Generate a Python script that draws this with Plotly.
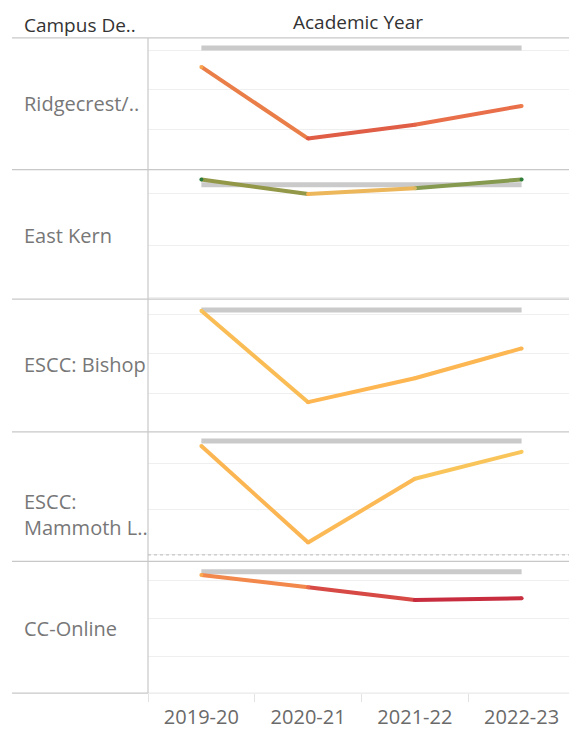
import plotly.graph_objects as go

W, H = 569, 730

years = ["2019-20", "2020-21", "2021-22", "2022-23"]
campuses = ["Ridgecrest/..", "East Kern", "ESCC: Bishop", "ESCC:<br>Mammoth L..", "CC-Online"]

# values (arbitrary units, hidden axis)
ridgecrest = [2.58, 0.76, 1.11, 1.59]
east_kern = [2.26, 1.98, 2.09, 2.26]
bishop = [3.10, 0.77, 1.38, 2.14]
mammoth = [2.39, 0.27, 1.67, 2.26]
cc_online = [3.14, 2.82, 2.48, 2.53]

# benchmark (gray reference) per campus
ridgecrest_ref = [3.06, 3.06, 3.06, 3.06]
east_kern_ref = [2.16, 2.16, 2.16, 2.16]
bishop_ref = [3.12, 3.12, 3.12, 3.12]
mammoth_ref = [2.50, 2.50, 2.50, 2.50]
cc_online_ref = [3.23, 3.23, 3.23, 3.23]

# per-point colours (colour-encoded measure)
ridgecrest_col = ["#F8A54E", "#DD5743", "#E4644A", "#EE7B4B"]
east_kern_col = ["#2A7B3C", "#FBB552", "#DDB863", "#2E7D3A"]
bishop_col = ["#F7C55A", "#FDB551", "#FDB752", "#FCB553"]
mammoth_col = ["#FBB954", "#FCB352", "#FAC15A", "#F9C95C"]
cc_online_col = ["#FBA84F", "#E9694A", "#C62A3F", "#C8303F"]

series = [ridgecrest, east_kern, bishop, mammoth, cc_online]
refs = [ridgecrest_ref, east_kern_ref, bishop_ref, mammoth_ref, cc_online_ref]
cols = [ridgecrest_col, east_kern_col, bishop_col, mammoth_col, cc_online_col]

# layout (pixels)
row_px = [(38, 170), (170, 300), (300, 433), (433, 563), (563, 695)]
y_ranges = [(-0.025, 3.316), (-0.028, 2.449), (0.013, 3.397), (-0.144, 2.70), (0.026, 3.5)]
label_y_px = [104, 236, 366, 516, 630]
X0 = 148


def py(p):
    return 1 - p / H


def px(p):
    return p / W


def mix(c1, c2):
    a = [int(c1[i:i + 2], 16) for i in (1, 3, 5)]
    b = [int(c2[i:i + 2], 16) for i in (1, 3, 5)]
    return "#%02X%02X%02X" % tuple((x + y) // 2 for x, y in zip(a, b))


fig = go.Figure()
FONT = "Open Sans"

for i in range(5):
    n = i + 1
    xa = "x" if n == 1 else f"x{n}"
    ya = "y" if n == 1 else f"y{n}"
    # gray reference line
    fig.add_trace(go.Scatter(x=years, y=refs[i], mode="lines",
                             line=dict(color="#CACACA", width=5),
                             xaxis=xa, yaxis=ya, showlegend=False, hoverinfo="skip"))
    vals = series[i]
    c = cols[i]
    for k in range(len(years) - 1):
        fig.add_trace(go.Scatter(x=years[k:k + 2], y=vals[k:k + 2], mode="lines",
                                 line=dict(color=mix(c[k], c[k + 1]), width=4),
                                 xaxis=xa, yaxis=ya, showlegend=False))
    fig.add_trace(go.Scatter(x=years, y=vals, mode="markers",
                             marker=dict(color=c, size=4, line=dict(width=0)),
                             xaxis=xa, yaxis=ya, showlegend=False))

    top, bot = row_px[i]
    fig.layout[f"xaxis{'' if n == 1 else n}"] = dict(
        domain=[px(X0), 1], anchor=ya, type="category", categoryorder="array",
        categoryarray=years, range=[-0.5, 3.444], showgrid=False, zeroline=False,
        showline=False, showticklabels=(n == 5),
        ticks="outside" if n == 5 else "", tickson="boundaries", ticklen=8,
        tickcolor="#E3E3E3", tickwidth=1, ticklabelstandoff=10,
        tickfont=dict(family=FONT, size=20, color="#6A6A6A"))
    fig.layout[f"yaxis{'' if n == 1 else n}"] = dict(
        domain=[py(bot), py(top)], anchor=xa, range=list(y_ranges[i]),
        tick0=0, dtick=1, showgrid=True, gridcolor="#EFEFEF", gridwidth=1,
        zeroline=False, showticklabels=False, showline=False)

    fig.add_annotation(text=campuses[i], xref="paper", yref="paper",
                       x=px(22), y=py(label_y_px[i]), xanchor="left", yanchor="middle",
                       showarrow=False, align="left",
                       font=dict(family=FONT, size=20, color="#777777"))

shapes = []
# header underline and row separators
for yy in [38, 170, 300, 433, 563]:
    shapes.append(dict(type="line", xref="paper", yref="paper", x0=px(12), x1=1,
                       y0=py(yy), y1=py(yy), line=dict(color="#C8C8C8", width=1.2)))
shapes.append(dict(type="line", xref="paper", yref="paper", x0=px(12), x1=px(X0),
                   y0=py(695), y1=py(695), line=dict(color="#C8C8C8", width=1.2)))
shapes.append(dict(type="line", xref="paper", yref="paper", x0=px(X0), x1=1,
                   y0=py(695), y1=py(695), line=dict(color="#E3E3E3", width=1)))
# vertical divider
shapes.append(dict(type="line", xref="paper", yref="paper", x0=px(X0), x1=px(X0),
                   y0=py(38), y1=py(695), line=dict(color="#C8C8C8", width=1.2)))
# dashed zero line in Mammoth row
shapes.append(dict(type="line", xref="x4 domain", yref="y4", x0=0, x1=1, y0=0, y1=0,
                   line=dict(color="#BBBBBB", width=1, dash="dot")))
fig.update_layout(shapes=shapes)

fig.add_annotation(text="Campus De..", xref="paper", yref="paper", x=px(22), y=py(25),
                   xanchor="left", yanchor="middle", showarrow=False,
                   font=dict(family=FONT, size=19, color="#333333"))
fig.add_annotation(text="Academic Year", xref="paper", yref="paper", x=px(358), y=py(22),
                   xanchor="center", yanchor="middle", showarrow=False,
                   font=dict(family=FONT, size=19, color="#333333"))

fig.update_layout(width=W, height=H, margin=dict(l=0, r=0, t=0, b=0),
                  paper_bgcolor="white", plot_bgcolor="white", showlegend=False)

fig.write_html("out.html", config={"displayModeBar": False},
               post_script="document.body.style.margin='0';document.body.style.overflow='hidden';")
